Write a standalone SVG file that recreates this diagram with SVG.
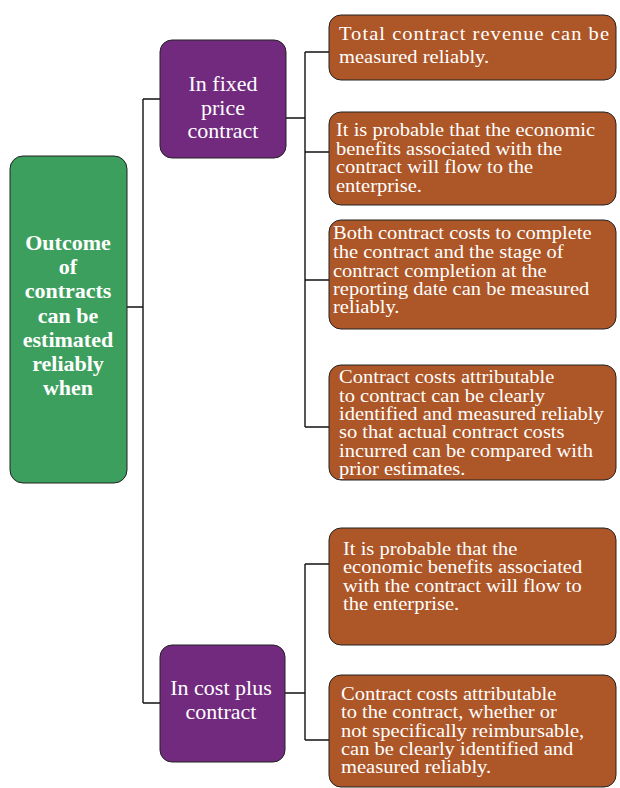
<svg xmlns="http://www.w3.org/2000/svg" width="620" height="788" viewBox="0 0 620 788">
<style>
.g{fill:#3d9f5d;stroke:#222;stroke-width:1}
.p{fill:#722a7f;stroke:#222;stroke-width:1}
.o{fill:#ad5627;stroke:#222;stroke-width:1}
.c{fill:none;stroke:#111;stroke-width:1.4}
.tb{font-family:"Liberation Serif",serif;font-size:22px;font-weight:bold;fill:#fff;text-anchor:middle}
.tp{font-family:"Liberation Serif",serif;font-size:22px;fill:#fff;text-anchor:middle}
.to{font-family:"Liberation Serif",serif;font-size:19px;fill:#fff}
</style>
<rect width="620" height="788" fill="#fff"/>
<g id="connectors">
<path class="c" d="M127,307H143M143,99V703M143,99H160M143,703H160"/>
<path class="c" d="M286,118H305M305,52V427M305,52H329M305,152H329M305,280H329M305,427H329"/>
<path class="c" d="M285,693H305M305,564V740M305,564H329M305,740H329"/>
</g>
<g id="root">
<rect class="g" x="10" y="156" width="117" height="327" rx="13"/>
<text class="tb" x="68"><tspan x="68" y="250">Outcome</tspan><tspan x="68" y="274">of</tspan><tspan x="68" y="298">contracts</tspan><tspan x="68" y="323">can be</tspan><tspan x="68" y="347">estimated</tspan><tspan x="68" y="371">reliably</tspan><tspan x="68" y="395">when</tspan></text>
</g>
<g id="fixed">
<rect class="p" x="160" y="40" width="126" height="118" rx="12"/>
<text class="tp"><tspan x="223" y="91">In fixed</tspan><tspan x="223" y="115">price</tspan><tspan x="223" y="138">contract</tspan></text>
</g>
<g id="costplus">
<rect class="p" x="160" y="645" width="125" height="117" rx="12"/>
<text class="tp"><tspan x="221" y="695">In cost plus</tspan><tspan x="221" y="719">contract</tspan></text>
</g>
<g id="f1">
<rect class="o" x="329" y="15" width="287" height="65" rx="12"/>
<text class="to" transform="translate(339 0) scale(1.08 1)"><tspan x="0" y="40" textLength="250" lengthAdjust="spacing">Total contract revenue can be</tspan><tspan x="0" y="63">measured reliably.</tspan></text>
</g>
<g id="f2">
<rect class="o" x="329" y="112" width="287" height="93" rx="12"/>
<text class="to" transform="translate(336 0) scale(1.08 1)"><tspan x="0" y="136">It is probable that the economic</tspan><tspan x="0" y="155">benefits associated with the</tspan><tspan x="0" y="173">contract will flow to the</tspan><tspan x="0" y="192">enterprise.</tspan></text>
</g>
<g id="f3">
<rect class="o" x="329" y="220" width="287" height="109" rx="12"/>
<text class="to" transform="translate(333 0) scale(1.08 1)"><tspan x="0" y="239">Both contract costs to complete</tspan><tspan x="0" y="258">the contract and the stage of</tspan><tspan x="0" y="277">contract completion at the</tspan><tspan x="0" y="295">reporting date can be measured</tspan><tspan x="0" y="313">reliably.</tspan></text>
</g>
<g id="f4">
<rect class="o" x="329" y="365" width="287" height="115" rx="12"/>
<text class="to" transform="translate(339 0) scale(1.08 1)"><tspan x="0" y="383">Contract costs attributable</tspan><tspan x="0" y="402">to contract can be clearly</tspan><tspan x="0" y="420">identified and measured reliably</tspan><tspan x="0" y="438">so that actual contract costs</tspan><tspan x="0" y="457">incurred can be compared with</tspan><tspan x="0" y="475">prior estimates.</tspan></text>
</g>
<g id="c1">
<rect class="o" x="329" y="528" width="287" height="117" rx="12"/>
<text class="to" transform="translate(343 0) scale(1.08 1)"><tspan x="0" y="555">It is probable that the</tspan><tspan x="0" y="573">economic benefits associated</tspan><tspan x="0" y="592">with the contract will flow to</tspan><tspan x="0" y="610">the enterprise.</tspan></text>
</g>
<g id="c2">
<rect class="o" x="329" y="675" width="287" height="112" rx="12"/>
<text class="to" transform="translate(341 0) scale(1.08 1)"><tspan x="0" y="700">Contract costs attributable</tspan><tspan x="0" y="718">to the contract, whether or</tspan><tspan x="0" y="737">not specifically reimbursable,</tspan><tspan x="0" y="755">can be clearly identified and</tspan><tspan x="0" y="773">measured reliably.</tspan></text>
</g>
</svg>
